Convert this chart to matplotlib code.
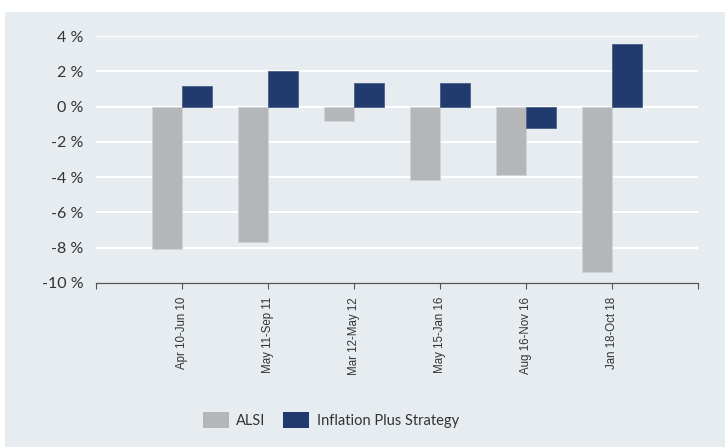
import matplotlib
matplotlib.use("Agg")
import matplotlib.pyplot as plt
from matplotlib.patches import Rectangle, Patch
import numpy as np

categories = ["Apr 10-Jun 10", "May 11-Sep 11", "Mar 12-May 12",
              "May 15-Jan 16", "Aug 16-Nov 16", "Jan 18-Oct 18"]
alsi = [-8.05, -7.7, -0.83, -4.15, -3.9, -9.4]
inflation_plus = [1.17, 2.02, 1.32, 1.36, -1.19, 3.55]
yticks = [4, 2, 0, -2, -4, -6, -8, -10]
ytick_labels = ["4 %", "2 %", "0 %", "-2 %", "-4 %", "-6 %", "-8 %", "-10 %"]

GREY = "#b5b6b8"
NAVY = "#213b6e"
PANEL = "#e6ecf0"

fig = plt.figure(figsize=(7.25, 4.47), dpi=100, facecolor="white")
bg = fig.add_axes([5/725, 0, 1 - 5/725, 1 - 12/447], zorder=-10)
bg.set_facecolor(PANEL)
bg.set_xticks([]); bg.set_yticks([])
for s in bg.spines.values():
    s.set_visible(False)

ax = fig.add_axes([96/725, 1 - 283/447, (698 - 96)/725, (283 - 36)/447], zorder=1)
ax.set_facecolor("none")

x = np.arange(len(categories))
w = 0.35
ax.bar(x - w/2, alsi, width=w, color=GREY, edgecolor="#d0d4d8", linewidth=0.6, zorder=3)
ax.bar(x + w/2, inflation_plus, width=w, color=NAVY, edgecolor="#4a5f88", linewidth=0.6, zorder=3)

ax.set_xlim(-1, len(categories))
ax.set_ylim(-10, 4)
ax.set_yticks(yticks)
ax.set_yticklabels(ytick_labels, fontfamily="Lato", fontsize=11.5, color="#333333")
ax.tick_params(axis="y", length=0, pad=9)
for yv in yticks:
    if yv != -10:
        ax.axhline(yv, color="white", linewidth=1.5, zorder=1)

ax.set_xticks(np.arange(-1, len(categories) + 1))
ax.set_xticklabels([""] + categories + [""], rotation=90,
                   fontfamily="Liberation Sans", fontsize=8.3, color="#333333")
ax.tick_params(axis="x", direction="out", length=4, width=0.8, color="#555555", pad=6)

for s in ["top", "right", "left"]:
    ax.spines[s].set_visible(False)
ax.spines["bottom"].set_color("#555555")
ax.spines["bottom"].set_linewidth(0.9)

handles = [Patch(facecolor=GREY, edgecolor="none", label="ALSI"),
           Patch(facecolor=NAVY, edgecolor="none", label="Inflation Plus Strategy")]
fig.legend(handles=handles, loc="center", bbox_to_anchor=(0.456, 1 - 420/447),
           ncol=2, frameon=False, prop={"family": "Lato", "size": 10.5},
           handlelength=1.8, handleheight=1.3, columnspacing=1.2, handletextpad=0.5,
           labelcolor="#333333")

fig.savefig("out.png", dpi=100, facecolor="white")
